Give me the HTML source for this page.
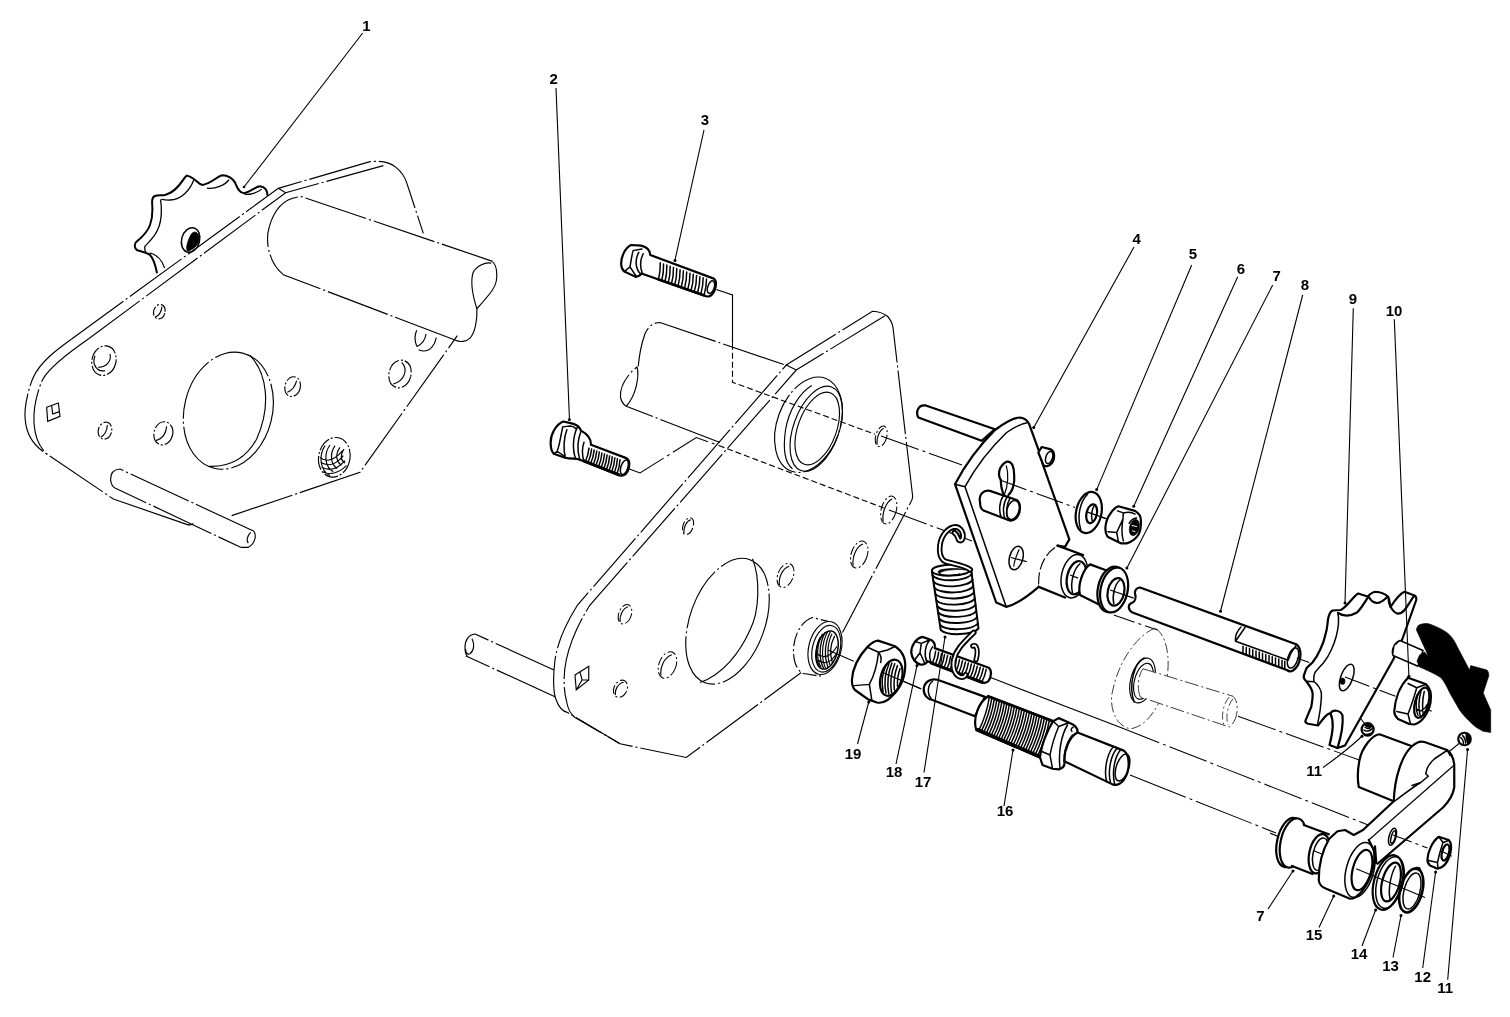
<!DOCTYPE html>
<html><head><meta charset="utf-8"><title>Parts diagram</title>
<style>
html,body{margin:0;padding:0;background:#fff}
svg{display:block;will-change:transform;transform:translateZ(0)}
svg *{vector-effect:non-scaling-stroke}
.ph{fill:none;stroke:#000;stroke-width:1.15;stroke-dasharray:64 3 2 3}
.pf{fill:#fff;stroke:#000;stroke-width:1.15;stroke-dasharray:64 3 2 3}
.hl{fill:none;stroke:#000;stroke-width:1.05;stroke-dasharray:9 2.5 2 2.5}
.n{fill:none;stroke:#000;stroke-width:1.15}
.nf{fill:#fff;stroke:#000;stroke-width:1.15}
.m{fill:none;stroke:#000;stroke-width:1.5;stroke-linejoin:round;stroke-linecap:round}
.mf{fill:#fff;stroke:#000;stroke-width:1.5;stroke-linejoin:round;stroke-linecap:round}
.t{fill:none;stroke:#000;stroke-width:2.2;stroke-linejoin:round;stroke-linecap:round}
.tf{fill:#fff;stroke:#000;stroke-width:2.2;stroke-linejoin:round;stroke-linecap:round}
.k{fill:#000;stroke:#000;stroke-width:.6}
.l{fill:none;stroke:#000;stroke-width:1.1}
.c{fill:none;stroke:#000;stroke-width:1.05;stroke-dasharray:40 4 3 4}
.d{fill:none;stroke:#000;stroke-width:1.1;stroke-dasharray:6 3}
.dot{fill:#000;stroke:none}
text{font-family:"Liberation Sans",sans-serif;font-weight:bold;font-size:15px;fill:#000;stroke:none;text-anchor:middle}
</style></head><body>
<svg width="1510" height="1017" viewBox="0 0 1510 1017">
<rect x="0" y="0" width="1510" height="1017" fill="#fff" stroke="none"/>
<!-- ===== left assembly (phantom plate + sprocket 1) ===== -->
<g transform="translate(120,160) scale(0.125)">
 <path class="t" style="stroke-width:2" d="M1180,280 C1178,245 1160,215 1120,210 C1080,212 1040,262 990,265 C950,262 935,215 920,180 C905,150 860,122 820,122 C780,125 740,185 660,200 C625,195 600,140 535,125 C505,140 470,250 360,280 C330,285 300,280 275,290 C255,300 255,330 258,360 C262,420 255,480 240,520 C215,590 160,630 130,655 C112,675 115,705 135,720 C170,735 215,740 240,760 C270,790 285,850 295,900"/>
 <path class="m" style="stroke-width:1.3" d="M1130,235 C1100,262 1040,278 1000,275 M870,160 C840,200 760,235 700,225 M590,160 C560,240 490,320 400,320 C375,322 350,318 335,315 M325,320 C335,400 330,500 300,560 C275,620 225,660 200,690 C195,710 200,725 205,735 M240,745 C290,755 335,800 355,860"/>
 <ellipse class="m" cx="565" cy="640" rx="72" ry="100" transform="rotate(15 565 640)"/>
 <path class="k" d="M565,600 C590,555 640,575 632,640 C622,690 585,715 545,730 C520,722 535,660 565,600 Z"/>
</g>
<g transform="scale(0.33333)">
 <path class="ph" d="M215,1017 L835,565 L1110,485 Q1160,480 1188,502 Q1212,522 1220,548 L1270,700"/>
 <path class="ph" d="M265,1017 L857,578 L1150,497 M835,565 L857,578"/>
 <path class="ph" d="M1365,1020 L850,824 C805,788 795,722 808,680 C825,620 860,592 905,590 L1478,784"/>
 
 <path class="n" d="M1250,991 Q1240,1015 1250,1038 M1278,1002 Q1275,1028 1250,1040 M1309,1013 C1305,1035 1290,1053 1272,1053 C1265,1053 1260,1051 1256,1049"/>
 <ellipse class="ph" cx="478" cy="935" rx="17" ry="22" transform="rotate(15 478 935)" style="stroke-dasharray:9 2 2 2"/>
 <path class="n" d="M486,920 C484,935 476,948 465,952"/>
</g>
<g transform="translate(0,339) scale(0.33333)">
 <path class="ph" d="M215,0 C170,32 120,70 100,115 C80,160 72,220 76,245 C80,290 105,325 145,348 L340,480"/>
 <path class="n" d="M340,480 L560,556 Q575,560 580,553"/>
 <path class="ph" d="M265,0 C200,45 150,85 130,118 C108,160 100,220 102,253 C105,300 125,335 145,348"/>
 <path class="ph" d="M695,530 L1080,400 L1372,-10"/>
 <!-- rod -->
 <path class="ph" d="M762,577 L360,390 Q330,392 332,425 Q335,442 345,447 L722,625"/>
 <path class="n" d="M762,577 C770,590 765,615 745,625 L722,625 M752,580 C742,590 738,605 745,612"/>
 <!-- big hole -->
 <ellipse class="ph" cx="685" cy="215" rx="132" ry="178" transform="rotate(14 685 215)"/>
 <path class="n" d="M750,50 C800,100 815,200 770,300 C740,355 690,385 625,382"/>
 <!-- holes -->
 <ellipse class="ph" cx="312" cy="65" rx="36" ry="45" transform="rotate(15 312 65)" style="stroke-dasharray:14 2 2 2"/>
 <path class="n" d="M285,50 C275,75 290,100 315,95 M330,45 C335,65 320,85 295,85"/>
 <ellipse class="ph" cx="878" cy="143" rx="23" ry="30" transform="rotate(15 878 143)" style="stroke-dasharray:10 2 2 2"/>
 <path class="n" d="M890,125 C885,145 875,155 862,160"/>
 <ellipse class="ph" cx="1200" cy="105" rx="33" ry="42" transform="rotate(15 1200 105)" style="stroke-dasharray:14 2 2 2"/>
 <path class="n" d="M1205,70 C1225,90 1215,125 1180,135"/>
 <ellipse class="ph" cx="315" cy="275" rx="20" ry="26" transform="rotate(15 315 275)" style="stroke-dasharray:10 2 2 2"/>
 <path class="n" d="M322,258 C322,275 312,290 302,295"/>
 <ellipse class="ph" cx="490" cy="283" rx="28" ry="35" transform="rotate(15 490 283)" style="stroke-dasharray:12 2 2 2"/>
 <path class="n" d="M500,262 C498,285 485,300 468,305"/>
 
 <!-- threaded hole -->
 <ellipse class="ph" cx="1003" cy="355" rx="47" ry="60" transform="rotate(12 1003 355)" style="stroke-dasharray:14 2 2 2"/>
 <path class="n" d="M975,320 C955,350 960,395 990,410 M990,318 C970,345 975,385 1000,398 M1005,320 C988,345 992,378 1012,388 M1020,325 C1005,345 1008,370 1025,378 M962,370 C985,385 1010,375 1030,350 M965,385 C990,398 1015,388 1035,365 M960,355 C980,372 1005,362 1028,335 M968,398 C992,410 1018,400 1040,380 M1032,330 C1020,350 1022,365 1035,372"/>
 <!-- square hole -->
 <path class="n" d="M140,205 L175,192 L180,232 L143,247 Z M155,200 L158,225 L178,218"/>
</g>
<g transform="translate(330,220) scale(0.125)">
 <path class="n" d="M1300,335 C1335,360 1340,440 1330,490 C1320,540 1300,570 1175,710 M1290,345 C1240,335 1170,370 1145,420 C1120,500 1140,600 1175,710 C1180,800 1160,900 1120,945 C1090,975 1040,980 1000,960"/>
</g>
<text x="366.5" y="30.7">1</text>
<path class="l" d="M362.7,33 L244,187"/>
<circle class="dot" cx="244" cy="187" r="1.3"/>

<!-- ===== second plate (phantom), tube, bolts 2 and 3 ===== -->
<g transform="translate(540,290) scale(0.25)">
 <!-- tube -->
 <path class="ph" d="M975,298 L480,130 Q440,130 420,175 Q400,230 393,305"/>
 <path class="ph" d="M720,610 L345,465 Q328,455 322,430 C318,390 350,335 388,308 C398,345 385,420 345,465"/>
 <!-- plate outer -->
 <path class="ph" d="M1412,150 Q1408,125 1390,105 Q1370,88 1330,85 L985,300 L150,1260 C100,1340 70,1410 60,1480 C50,1560 55,1620 65,1640 C75,1670 90,1685 110,1690 L320,1815 L585,1870 L1045,1530 M1210,1370 L1485,845 Q1492,835 1490,820 L1412,150"/>
 <path class="ph" d="M1380,103 L1025,320 L200,1260 C150,1340 120,1410 105,1480 C92,1540 95,1600 105,1640 C112,1680 125,1700 140,1710 L320,1815 M985,300 L1025,320"/>
 <!-- rod left -->
 <path class="ph" d="M56,1520 L-260,1376 M60,1627 L-296,1464"/>
 <path class="n" d="M-260,1376 C-285,1378 -300,1400 -300,1430 C-300,1450 -296,1460 -290,1466 M-272,1395 C-262,1415 -262,1440 -280,1455 C-290,1460 -298,1450 -298,1435"/>
 <!-- big hole -->
 <ellipse class="ph" cx="750" cy="1325" rx="150" ry="262" transform="rotate(20 750 1325)"/>
 <path class="n" d="M850,1075 C880,1150 880,1280 840,1360 C800,1450 730,1540 640,1570"/>
 <!-- bearing -->
 <ellipse class="ph" cx="1074" cy="539" rx="125" ry="198" transform="rotate(20 1074 539)" style="stroke-dasharray:90 3 2 3;stroke-dashoffset:-60"/>
 <path class="n" d="M1087,382 C1040,410 995,480 982,560 C972,630 978,690 1010,715"/>
 <ellipse class="n" cx="1105" cy="555" rx="91" ry="178" transform="rotate(20 1105 555)"/>
 <ellipse class="n" cx="1109" cy="554" rx="77" ry="152" transform="rotate(20 1109 554)"/>
 <!-- small holes -->
 <g>
 <ellipse class="hl" cx="1365" cy="585" rx="22" ry="42" transform="rotate(15 1365 585)"/>
 <ellipse class="hl" cx="1395" cy="880" rx="30" ry="57" transform="rotate(15 1395 880)"/>
 <ellipse class="hl" cx="592" cy="945" rx="20" ry="35" transform="rotate(20 592 945)"/>
 <ellipse class="hl" cx="340" cy="1297" rx="25" ry="40" transform="rotate(20 340 1297)"/>
 <ellipse class="hl" cx="510" cy="1500" rx="34" ry="55" transform="rotate(20 510 1500)"/>
 <ellipse class="hl" cx="322" cy="1595" rx="26" ry="36" transform="rotate(25 322 1595)"/>
 <ellipse class="hl" cx="982" cy="1142" rx="31" ry="50" transform="rotate(20 982 1142)"/>
 <ellipse class="hl" cx="1277" cy="1058" rx="32" ry="56" transform="rotate(18 1277 1058)"/>
 </g>
 <path class="n" d="M1375,553 C1355,563 1345,597 1349,619 M1408,836 C1381,850 1367,896 1373,926 M603,919 C584,925 573,953 576,972 M352,1267 C330,1274 317,1306 321,1328 M527,1459 C496,1469 479,1512 484,1542 M335,1569 C312,1573 298,1600 302,1620 M997,1105 C969,1113 953,1153 958,1180 M1292,1016 C1263,1027 1247,1072 1253,1102"/>
 <!-- square hole -->
 <path class="n" d="M140,1540 L195,1505 L195,1560 L145,1600 Z M160,1528 L168,1560 L195,1560 M168,1560 L145,1600"/>
 <!-- threaded boss -->
 <path class="pf" d="M1090,1310 C1030,1330 1000,1420 1020,1490 C1030,1520 1045,1535 1062,1535 L1120,1545 L1150,1325 Z" style="stroke-dasharray:14 3 2 3"/>
 <ellipse class="nf" cx="1140" cy="1432" rx="65" ry="108" transform="rotate(14 1140 1432)"/>
 <ellipse class="n" cx="1145" cy="1435" rx="55" ry="95" transform="rotate(14 1145 1435)"/>
 <ellipse class="m" cx="1148" cy="1440" rx="42" ry="78" transform="rotate(14 1148 1440)"/>
 <path class="m" style="stroke-width:1.3" d="M1120,1390 C1100,1430 1102,1480 1118,1505 M1140,1370 C1115,1418 1115,1478 1134,1512 M1160,1370 C1137,1415 1137,1472 1152,1508 M1178,1385 C1160,1420 1160,1462 1170,1492"/><path class="n" d="M1130,1375 C1105,1420 1105,1480 1125,1510 M1150,1368 C1125,1415 1125,1475 1142,1512 M1168,1375 C1148,1415 1148,1470 1160,1500 M1112,1480 C1135,1500 1165,1490 1185,1455 M1108,1455 C1135,1478 1165,1465 1188,1425"/>
 <!-- lines from bolts -->
 <path class="n" d="M705,-2 L770,20 L770,215"/>
 <path class="d" d="M770,215 L770,369 L1340,577"/>
 <path class="c" d="M355,715 L400,732 L625,590 L715,622"/>
 <path class="d" d="M715,622 L1375,872"/>
</g>
<!-- bolt 2 -->
<g transform="translate(540,400) scale(0.125)">
 <path class="tf" d="M185,172 C130,195 85,270 85,340 C85,385 95,415 110,430 L200,462 C240,472 280,468 300,472 L330,482 L640,603 C672,612 702,588 712,538 C718,498 706,472 690,465 L408,358 C410,310 385,275 328,245 C318,212 290,195 245,185 Z"/>
 <path class="m" d="M182,215 L242,208 C262,210 280,220 290,232 M182,215 C165,290 155,370 137,410 L110,430 M137,410 L192,447 M215,238 C190,300 185,400 203,460 M300,215 C262,290 258,400 285,468 M328,250 C300,320 298,410 318,476 M352,338 C337,380 337,440 350,488"/>
 <ellipse class="m" cx="675" cy="538" rx="28" ry="60" transform="rotate(18 675 538)"/>
 <path class="m" d="M392.0,385.0 Q386.4,443.0 362.0,494.0 M412.7,392.8 Q407.2,451.0 383.1,502.2 M433.3,400.5 Q428.1,458.9 404.2,510.3 M454.0,408.2 Q449.0,466.9 425.2,518.5 M474.7,416.0 Q469.9,474.8 446.3,526.7 M495.3,423.8 Q490.7,482.8 467.4,534.8 M516.0,431.5 Q511.6,490.8 488.5,543.0 M536.7,439.2 Q532.5,498.7 509.6,551.2 M557.3,447.0 Q553.4,506.7 530.7,559.3 M578.0,454.8 Q574.2,514.6 551.8,567.5 M598.7,462.5 Q595.1,522.6 572.8,575.7 M619.3,470.2 Q616.0,530.6 593.9,583.8 M640.0,478.0 Q636.9,538.5 615.0,592.0"/>
 <path class="t" d="M350,487 L630,598" style="stroke-width:3"/>
</g>
<!-- bolt 3 -->
<g transform="translate(600,230) scale(0.125)">
 <path class="tf" d="M250,120 C200,140 165,220 170,280 C172,310 185,325 195,332 L285,375 C310,370 325,362 332,348 L850,530 C880,540 915,510 925,455 C932,415 920,390 900,385 L402,200 C400,165 375,135 330,125 Z"/>
 <path class="m" d="M265,165 L335,152 M265,165 C250,220 245,270 240,295 L195,332 M240,295 L290,372 M310,180 C280,230 280,310 325,352 M345,190 C320,240 320,300 340,350"/>
 <ellipse class="m" cx="888" cy="457" rx="26" ry="52" transform="rotate(18 888 457)"/>
 <path class="m" d="M482.0,262.0 Q484.4,331.3 468.0,394.0 M508.4,271.3 Q510.6,340.5 494.0,403.1 M534.9,280.6 Q536.9,349.7 520.0,412.3 M561.3,289.9 Q563.1,359.0 546.0,421.4 M587.7,299.1 Q589.3,368.2 572.0,430.6 M614.1,308.4 Q615.5,377.4 598.0,439.7 M640.6,317.7 Q641.7,386.6 624.0,448.9 M667.0,327.0 Q667.9,395.8 650.0,458.0 M693.4,336.3 Q694.1,405.0 676.0,467.1 M719.9,345.6 Q720.4,414.2 702.0,476.3 M746.3,354.9 Q746.6,423.5 728.0,485.4 M772.7,364.1 Q772.8,432.7 754.0,494.6 M799.1,373.4 Q799.0,441.9 780.0,503.7 M825.6,382.7 Q825.2,451.1 806.0,512.9 M852.0,392.0 Q851.4,460.3 832.0,522.0"/>
 <path class="t" d="M465,394 L835,524" style="stroke-width:2.6"/>
</g>
<text x="553.7" y="83.7">2</text>
<path class="l" d="M556,88 L569.4,418"/>
<circle class="dot" cx="569.4" cy="419.4" r="1.5"/>
<text x="705" y="125.2">3</text>
<path class="l" d="M704,130 L675,260"/>
<circle class="dot" cx="675" cy="260.6" r="1.5"/>

<!-- ===== bracket 4, washer 5, nut 6, bushing 7 ===== -->
<!-- centre lines from plate holes to bracket -->
<path class="c" d="M881,436 L962,465 M889,510 L972,541"/>
<g transform="translate(910,395) scale(0.16667)">
 <!-- rod behind -->
 <path class="tf" d="M510,205 L90,62 C50,58 32,100 50,135 L430,275 Z"/>
 <!-- bracket body -->
 <path class="tf" d="M270,535 C330,420 420,300 510,210 C570,165 630,135 660,135 Q700,140 715,175 L775,340 L800,425 L956,866 L930,911 L885,904 L772,1151 C710,1205 640,1255 577,1271 L517,1245 Z"/>
 <path class="m" d="M270,535 L330,550 M330,550 C390,440 480,320 580,225 C630,190 670,170 708,165 M330,550 L577,1271"/>
 <!-- pin stub top right -->
 <path class="tf" d="M770,345 L790,312 L840,325 C870,335 872,380 850,410 C835,430 810,432 800,420 Z"/>
 <ellipse class="m" cx="835" cy="375" rx="20" ry="38" transform="rotate(18 835 375)"/>
 <!-- slot -->
 <path class="t" d="M545,510 C520,470 540,420 580,400 C615,395 625,440 625,480 C630,530 615,580 590,600"/>
 <path class="t" d="M545,510 C545,545 552,580 566,602"/><path class="m" style="stroke-width:1.2" d="M578,425 C592,470 590,540 566,598"/>
 <!-- stud -->
 <path class="tf" d="M420,640 C410,600 440,568 480,575 L640,630 C670,650 665,720 630,745 C615,755 600,755 590,750 L445,695 C430,690 420,670 420,640 Z"/>
 <ellipse class="m" cx="618" cy="690" rx="36" ry="58" transform="rotate(18 618 690)"/>
 <path class="m" d="M560,605 C535,640 532,700 548,735 M582,612 C558,650 555,705 570,742 M600,620 C578,655 575,708 588,748"/>
 <!-- centre line to washer/nut -->
 <path class="c" style="stroke-dasharray:28 4 3 4" d="M540,510 L990,675"/><path class="n" d="M1100,712 L1185,745"/>
 <!-- lower hole -->
 <ellipse class="m" cx="637" cy="978" rx="40" ry="72" transform="rotate(15 637 978)"/>
 <path class="n" d="M605,975 L700,1000 M655,925 C640,960 625,1000 622,1030"/>
</g>
<!-- washer 5 / nut 6 -->
<g transform="translate(1060,470) scale(0.083333)">
 <ellipse class="tf" cx="345" cy="510" rx="152" ry="250" transform="rotate(12 345 510)"/>
 <path class="m" d="M330,290 C240,380 200,560 250,720"/>
 <ellipse class="t" cx="380" cy="525" rx="62" ry="115" transform="rotate(12 380 525)"/>
 <path class="m" d="M410,430 C380,470 370,570 390,620"/>
 <path class="n" d="M330,505 L545,580"/>
 <path class="tf" d="M545,690 C550,620 570,570 600,530 C630,480 660,450 700,435 L900,490 C950,520 975,570 970,620 C975,680 965,720 950,760 C920,820 870,860 800,880 L730,880 L570,800 C550,770 543,730 545,690 Z"/>
 <path class="m" d="M690,490 L760,515 L755,590 L680,750 L575,740 M680,750 L700,850 M760,515 C820,500 870,510 900,530 M755,590 C740,680 740,780 760,850 M830,640 C850,600 880,580 920,575"/>
 <ellipse class="k" cx="892" cy="690" rx="58" ry="100" transform="rotate(14 892 690)"/>
 <path d="M860,665 L925,680 M865,730 L905,740" stroke="#fff" stroke-width="1" fill="none"/>
 <path class="n" d="M840,690 L965,735"/>
</g>
<!-- boss and bushing 7 -->
<g transform="translate(990,520) scale(0.125)">
 <path class="tf" d="M540,205 L745,280 C780,330 790,480 720,590 C690,620 640,630 600,620 L390,535 C375,400 430,280 520,215 Z" style="stroke:none"/>
 <path class="t" d="M540,205 L745,280 M390,535 L600,620"/>
 <path class="n" d="M520,220 C430,280 380,400 390,530" style="stroke-dasharray:12 3"/>
 <ellipse class="m" cx="675" cy="450" rx="103" ry="176" transform="rotate(12 675 450)"/>
 <ellipse class="tf" cx="692" cy="462" rx="76" ry="135" transform="rotate(12 692 462)"/>
 <path class="m" d="M720,350 C670,390 640,500 660,580"/>
 <path class="n" d="M640,440 L705,465"/>
 <!-- bushing body -->
 <path class="tf" d="M800,355 L950,410 L880,680 L720,600 C700,520 740,400 800,355 Z"/>
 <!-- flange -->
 <ellipse class="tf" cx="975" cy="555" rx="112" ry="185" transform="rotate(12 975 555)"/>
 <ellipse class="tf" cx="993" cy="560" rx="108" ry="182" transform="rotate(12 993 560)"/>
 <ellipse class="t" cx="1008" cy="575" rx="66" ry="112" transform="rotate(12 1008 575)"/>
 <path class="m" d="M1040,480 C1000,510 975,600 990,670"/>
 <path class="n" d="M960,560 L1150,625"/>
</g>

<!-- ===== spring 17, bolt 18, nut 19, adjuster 16 ===== -->
<!-- centre lines -->
<path class="c" d="M828,650 L853.75,661.25"/>
<path class="n" d="M882,672 L921,689"/>
<path class="n" d="M990.6,677.5 L1122,728" />
<path class="c" d="M1122,728 L1386,832"/>
<!-- spring -->
<g transform="translate(890,520) scale(0.125)">
 <path d="M335,410 C330,380 400,355 490,355 C590,355 655,375 650,400 L708,868 A160,58 -2 0 1 406,880 Z" fill="#fff" stroke="none"/>
 <path class="t" d="M335,410 L406,880 A160,58 -2 0 0 708,868 L650,400" style="stroke-width:2"/>
 <ellipse class="t" cx="492" cy="400" rx="157" ry="45" transform="rotate(-2 492 400)" style="stroke-width:2"/>
 <path class="k" d="M385,410 C400,385 560,380 600,400 C580,392 420,395 400,425 C395,440 500,450 560,430 C500,455 380,450 385,410 Z"/>
 <path class="t" style="stroke-width:1.9" d="M339.6,440.0 A160,58 -2 0 0 654.8,428.0 M347.2,490.0 A160,58 -2 0 0 660.8,478.0 M354.8,540.0 A160,58 -2 0 0 666.8,528.0 M362.4,590.0 A160,58 -2 0 0 672.8,578.0 M370.0,640.0 A160,58 -2 0 0 678.8,628.0 M377.6,690.0 A160,58 -2 0 0 684.8,678.0 M385.2,740.0 A160,58 -2 0 0 690.8,728.0 M392.8,790.0 A160,58 -2 0 0 696.8,778.0 M400.4,840.0 A160,58 -2 0 0 702.8,828.0"/>
 <!-- top hook -->
 <path d="M642,398 C600,362 500,350 440,330 C400,310 392,250 400,200 C410,120 470,55 525,55 C570,60 592,110 582,145 C575,172 550,170 545,148 C540,128 532,112 515,102" fill="none" stroke="#000" stroke-width="5.6" stroke-linecap="round"/>
 <path d="M642,398 C600,362 500,350 440,330 C400,310 392,250 400,200 C410,120 470,55 525,55 C570,60 592,110 582,145 C575,172 550,170 545,148 C540,128 532,112 515,102" fill="none" stroke="#fff" stroke-width="1.9" stroke-linecap="round"/>
</g>
<!-- nut 19 -->
<g transform="translate(845,620) scale(0.125)">
 <path class="tf" d="M55,480 C60,400 100,300 180,215 C210,185 240,165 265,165 L400,210 C460,250 490,320 480,400 C470,500 420,580 340,640 C310,660 280,665 255,660 L185,635 L80,560 C60,540 55,510 55,480 Z"/>
 <path class="m" d="M180,218 L268,258 L340,240 L400,212 M268,258 C260,340 230,450 195,515 L75,525 M195,515 L215,645 M268,258 C300,300 290,320 285,340"/>
  <ellipse class="t" cx="370" cy="462" rx="84" ry="148" transform="rotate(16 370 462)"/>
 <path class="t" style="stroke-width:1.5" d="M330,360 C300,420 290,500 305,570 M352,350 C322,420 312,510 328,585 M375,345 C345,420 335,510 350,590 M398,350 C370,420 360,510 372,580 M420,365 C395,430 388,500 395,560 M440,390 C422,440 418,490 420,530"/>
 <path class="n" d="M300,420 L610,550"/>
 <!-- bolt 18 -->
 <path class="tf" d="M530,260 C530,200 570,145 620,135 L690,160 C715,175 722,200 718,225 L1150,382 C1175,400 1172,450 1150,485 C1135,505 1115,505 1100,500 L660,330 C650,350 625,362 600,355 C560,340 535,300 530,260 Z"/>
 <path class="m" d="M560,172 L610,187 L680,158 M610,187 L600,262 L555,322 M600,262 L640,352 M680,160 C640,200 630,280 655,335 M700,215 C675,250 672,300 688,340"/>
 <path class="m" d="M725.0,250.0 Q720.0,300.2 700.0,345.0 M748.8,258.5 Q743.6,308.9 723.2,353.8 M772.6,267.1 Q767.1,317.5 746.5,362.6 M796.5,275.6 Q790.6,326.2 769.7,371.5 M820.3,284.1 Q814.1,334.9 792.9,380.3 M844.1,292.6 Q837.7,343.6 816.2,389.1 M867.9,301.2 Q861.2,352.3 839.4,397.9 M891.8,309.7 Q884.7,360.9 862.6,406.8 M915.6,318.2 Q908.3,369.6 885.9,415.6 M939.4,326.8 Q931.8,378.3 909.1,424.4 M963.2,335.3 Q955.3,387.0 932.4,433.2 M987.1,343.8 Q978.9,395.6 955.6,442.1 M1010.9,352.4 Q1002.4,404.3 978.8,450.9 M1034.7,360.9 Q1025.9,413.0 1002.1,459.7 M1058.5,369.4 Q1049.4,421.7 1025.3,468.5 M1082.4,377.9 Q1073.0,430.3 1048.5,477.4 M1106.2,386.5 Q1096.5,439.0 1071.8,486.2 M1130.0,395.0 Q1120.0,447.7 1095.0,495.0"/>
 <path class="t" style="stroke-width:3" d="M690,345 L1100,500"/>
 <!-- spring lower hook -->
 <path d="M1030,100 C960,170 890,230 870,320 C858,390 880,440 920,455 C945,462 960,450 965,438" fill="none" stroke="#000" stroke-width="5.6" stroke-linecap="round"/>
 <path d="M1030,100 C960,170 890,230 870,320 C858,390 880,440 920,455 C945,462 960,450 965,438" fill="none" stroke="#fff" stroke-width="1.9" stroke-linecap="round"/>
 <path d="M1022,208 C1050,190 1070,240 1048,318" fill="none" stroke="#000" stroke-width="5.2" stroke-linecap="round"/>
 <path d="M1022,208 C1050,190 1070,240 1048,318" fill="none" stroke="#fff" stroke-width="1.8" stroke-linecap="round"/>
</g>
<!-- adjuster 16 -->
<g transform="translate(960,680) scale(0.125)">
 <!-- thin rod (in 8x coords continuing from the left) -->
 <path class="tf" d="M200,135 L-180,-2 C-230,-15 -280,10 -290,65 C-295,120 -260,155 -220,160 L120,290 Z"/>
 <path class="m" d="M-220,10 C-260,40 -265,110 -230,150"/>
 <!-- threaded section -->
 <path class="tf" d="M225,130 L745,330 L640,620 L130,400 C100,300 150,180 225,130 Z"/>
 <path class="m" d="M235.0,136.0 Q213.0,278.4 150.0,405.0 M255.0,143.7 Q232.8,286.4 169.6,413.4 M275.0,151.4 Q252.6,294.5 189.2,421.8 M295.0,159.0 Q272.4,302.5 208.8,430.2 M315.0,166.7 Q292.2,310.5 228.4,438.6 M335.0,174.4 Q312.0,318.6 248.0,447.0 M355.0,182.1 Q331.8,326.6 267.6,455.4 M375.0,189.8 Q351.6,334.7 287.2,463.8 M395.0,197.4 Q371.4,342.7 306.8,472.2 M415.0,205.1 Q391.2,350.7 326.4,480.6 M435.0,212.8 Q411.0,358.8 346.0,489.0 M455.0,220.5 Q430.8,366.8 365.6,497.4 M475.0,228.2 Q450.6,374.9 385.2,505.8 M495.0,235.8 Q470.4,382.9 404.8,514.2 M515.0,243.5 Q490.2,390.9 424.4,522.6 M535.0,251.2 Q510.0,399.0 444.0,531.0 M555.0,258.9 Q529.8,407.0 463.6,539.4 M575.0,266.6 Q549.6,415.1 483.2,547.8 M595.0,274.2 Q569.4,423.1 502.8,556.2 M615.0,281.9 Q589.2,431.1 522.4,564.6 M635.0,289.6 Q609.0,439.2 542.0,573.0 M655.0,297.3 Q628.8,447.2 561.6,581.4 M675.0,305.0 Q648.6,455.3 581.2,589.8 M695.0,312.6 Q668.4,463.3 600.8,598.2 M715.0,320.3 Q688.2,471.3 620.4,606.6 M735.0,328.0 Q708.0,479.4 640.0,615.0"/>
 <path class="t" style="stroke-width:3.6" d="M140,398 L640,614"/><path class="t" style="stroke-width:2.6" d="M225,130 L745,330"/>
 <!-- hex -->
 <path class="tf" d="M745,330 L790,305 L870,340 C920,360 945,385 940,420 C900,480 860,560 835,650 C840,680 825,705 790,715 L740,710 L660,680 L640,620 C650,520 700,400 745,330 Z"/>
 <path class="m" d="M790,372 L870,342 M790,372 C760,440 735,520 720,600 L650,570 M720,600 L740,708 M745,330 L790,372 M905,378 C890,385 885,400 895,410 M860,360 C810,440 785,580 800,705"/>
 <!-- right cylinder -->
 <path class="tf" d="M940,420 L1310,565 C1360,600 1365,720 1310,800 C1280,835 1245,845 1220,835 L835,650 C830,560 880,450 940,420 Z"/>
 <path class="m" d="M900,440 C850,500 825,600 840,650 M1225,535 C1170,600 1150,740 1175,815 M1255,548 C1200,610 1182,745 1205,825 M1285,558 C1232,620 1215,750 1238,835"/>
 <ellipse class="m" cx="1300" cy="700" rx="50" ry="112" transform="rotate(18 1300 700)"/>
</g>
<path class="c" d="M1130,775 L1276,833" style="stroke-dasharray:60 4 3 4"/>

<!-- ===== shaft 8, roller (phantom), sprocket 9, nut 10, blob ===== -->
<g transform="translate(1133,560) scale(0.25)">
 <!-- roller phantom -->
 <path class="c" d="M-77,220 L98,280" style="stroke-dasharray:22 4 3 4"/>
 <path class="ph" style="stroke-dasharray:10 3 2 3;stroke-width:.95;stroke:#333" d="M88,272 C20,300 -60,400 -85,540 C-92,610 -60,665 -12,675 C50,670 110,590 135,480 C150,390 135,300 88,272"/>
 <ellipse class="n" cx="38" cy="482" rx="47" ry="92" transform="rotate(15 38 482)"/><path class="m" d="M45,392 C5,410 -20,500 5,568"/>
 <ellipse class="n" cx="42" cy="485" rx="36" ry="74" transform="rotate(15 42 485)"/>
 <path class="pf" style="stroke-dasharray:14 3 2 3;stroke-width:.95;stroke:#333" d="M40,435 L400,545 C428,570 420,645 385,668 L30,548 C15,520 20,460 40,435 Z"/>
 <path class="ph" style="stroke-dasharray:8 3 2 3;stroke-width:.9;stroke:#333" d="M385,548 C360,575 350,630 365,662 M400,555 C378,580 370,630 380,660"/>
 <path class="c" d="M420,625 L905,800"/>
 <!-- shaft 8 -->
 <path class="tf" d="M28,110 L655,338 C680,360 672,420 640,442 C630,448 622,445 615,440 L-2,210 C-20,200 -22,178 -5,172 C22,160 5,135 8,127 Q12,112 28,110 Z"/>
 <path class="m" d="M448,270 L410,325 L618,400 M432,268 C415,285 408,305 410,325 M655,338 L632,372 L620,402"/>
 <ellipse class="m" cx="640" cy="392" rx="20" ry="42" transform="rotate(18 640 392)"/>
 <path class="t" style="stroke-width:1.5" d="M440,345 L440,372 M453,350 L453,378 M466,354 L466,384 M479,359 L479,389 M492,364 L492,394 M505,368 L505,399 M518,373 L518,404 M531,378 L531,409 M544,382 L544,414 M557,387 L557,419 M570,392 L570,424 M583,396 L583,429 M596,401 L596,434 M607,405 L607,437"/>
 <path class="n" d="M655,392 L705,410"/>
 <!-- sprocket 9 -->
 <path class="tf" d="M798,202 L831,200 C860,185 880,145 901,134 L938,146 C950,135 962,127 971,127 C990,128 1010,138 1021,147 C1022,160 1024,175 1030,188 C1045,165 1065,135 1086,127 L1126,142 Q1135,148 1133,160 L1076,320 L1040,400 L848,742 L818,752 L786,740 C800,690 802,640 790,614 C780,610 765,628 740,662 L700,655 C692,652 688,648 690,642 C695,632 705,605 713,588 C718,560 720,545 718,530 C715,515 705,500 693,485 C685,478 682,470 683,465 C685,455 690,445 693,435 C700,425 710,418 718,410 C730,395 740,378 748,360 C758,340 765,320 768,305 C774,285 777,270 778,255 C780,240 780,232 783,225 C787,212 792,205 798,202 Z"/>
 <path class="t" d="M820,212 C845,228 870,225 896,210 C912,195 930,165 941,147 M945,150 C950,160 960,170 976,172 C990,172 1005,160 1018,147 M1024,155 C1026,180 1035,205 1056,214 C1070,215 1080,208 1086,200 C1095,190 1110,165 1123,145"/>
 <path class="m" d="M820,212 C825,240 822,270 813,305 C808,325 800,345 793,360 C785,378 775,395 763,410 C750,425 735,440 728,450 C722,465 722,478 725,487 M725,487 L693,485 M725,487 C735,495 748,510 753,530 C755,550 752,570 750,588 C748,610 742,635 738,660"/>
 <path class="t" d="M790,613 C800,596 830,600 838,622 C842,660 828,720 818,752"/>
 <ellipse class="m" cx="855" cy="470" rx="24" ry="56" transform="rotate(20 855 470)"/>
 <ellipse class="k" cx="838" cy="485" rx="10" ry="13"/>
 <!-- stub shaft in front of sprocket -->
 <path class="mf" d="M1068,322 L1160,362 L1140,425 L1040,382 C1032,360 1045,330 1068,322 Z"/>
 <path class="n" style="stroke-dasharray:6 3" d="M1068,322 C1045,335 1035,365 1042,384"/>
 <path class="c" style="stroke-dasharray:26 4 3 4" d="M848,468 L1050,545"/>
 <path class="n" d="M1145,585 L1195,605"/>
 <g transform="translate(0,16)">
 <!-- nut 10 -->
 <path class="tf" d="M1045,590 C1048,545 1065,490 1100,455 L1170,480 C1190,495 1195,525 1190,555 C1180,600 1155,635 1125,642 L1105,640 L1060,620 C1050,610 1045,600 1045,590 Z"/>
 <path class="m" d="M1100,478 L1135,495 L1170,482 M1135,495 C1125,530 1110,575 1100,600 L1055,590 M1100,600 L1110,640"/>
 <ellipse class="t" cx="1155" cy="555" rx="27" ry="62" transform="rotate(15 1155 555)"/>
 <path class="m" d="M1140,520 C1130,550 1130,585 1140,605 M1152,508 C1142,545 1142,585 1150,612 M1165,510 C1157,545 1157,580 1162,605 M1135,580 C1150,595 1165,585 1178,560"/>
 </g>
</g>
<!-- black blob -->
<path class="k" d="M1416.4,630 C1417,626 1419,624.5 1421,624.3 C1424,623 1427,623.5 1428.5,623.7 C1433,625 1437,627 1441,629 C1445,631 1449,634 1451,636.5 C1454,640 1456,644 1457,646.3 L1469.5,670 L1470.7,665.6 L1487,670 Q1489,672 1488.9,675.5 L1483.2,693 L1490.7,710 L1490.7,732.5 L1483,731.2 C1479,729 1475,727 1472,723.7 C1467,719 1463,715 1459.5,710 L1449.5,692.5 C1447,687 1444,681 1440.7,677.5 C1434,673 1426,670 1419.5,667 L1417,661 L1419.5,655 L1424.5,652 L1428.5,656.5 Z"/>
<!-- set screws 11 -->
<g transform="translate(1322,660) scale(0.125)">
 <path class="n" d="M310,470 L350,520"/>
 <ellipse class="tf" cx="365" cy="555" rx="48" ry="50"/>
 <path class="k" d="M325,585 C350,610 400,600 412,560 C400,590 350,600 325,585 Z M340,520 C355,500 390,505 400,530 C385,540 350,545 340,520 Z"/>
 <path class="m" d="M335,560 C350,575 385,570 400,550 M345,540 C360,550 380,548 392,535"/>
 <ellipse class="tf" cx="1140" cy="632" rx="50" ry="50"/>
 <path class="k" d="M1150,585 C1185,595 1200,640 1175,675 C1160,680 1150,640 1150,585 Z"/>
 <path class="m" d="M1110,620 C1125,635 1135,650 1130,670 M1125,605 C1140,620 1150,640 1148,665"/>
 <path class="n" d="M1100,665 L1020,730"/>
</g>

<!-- ===== arm 15, bushing 7 (lower), washer 14, snap ring 13, nut 12 ===== -->
<g transform="translate(1133,720) scale(0.25)">
 <!-- lower bushing 7 -->
 <ellipse class="tf" cx="626" cy="490" rx="50" ry="100" transform="rotate(12 626 490)"/>
 <ellipse class="tf" cx="640" cy="492" rx="50" ry="100" transform="rotate(12 640 492)"/>
 <path d="M683,420 L783,457 L713,615 L640,588 Z" fill="#fff" stroke="none"/><path class="t" d="M683,420 L783,457 M718,616 L636,584"/>
 <ellipse class="tf" cx="745" cy="535" rx="40" ry="80" transform="rotate(12 745 535)"/>
 <ellipse class="m" cx="750" cy="537" rx="30" ry="66" transform="rotate(12 750 537)"/>
 <path class="n" d="M548,452 L583,467 M720,522 L758,537"/>
 <!-- upper boss cylinder -->
 <path class="tf" d="M986,57 C956,60 916,110 906,160 C898,200 898,240 903,268 L1043,325 L1116,105 Z"/>
 <!-- arm body -->
 <path d="M1043,325 C1046,230 1076,140 1116,105 C1135,88 1151,83 1166,88 L1256,120 C1276,135 1283,155 1285,180 L1285,270 C1280,300 1265,325 1240,350 L978,575 L958,600 C938,670 898,715 868,715 L773,675 C758,670 745,660 743,640 C743,580 758,520 785,475 L818,445 L848,440 L883,460 L920,440 Z" fill="#fff" stroke="none"/>
 <path class="t" d="M1043,325 C1046,230 1076,140 1116,105 C1135,88 1151,83 1166,88 L1256,120 C1276,135 1283,155 1285,180 L1285,270 C1280,300 1265,325 1240,350 L978,575"/>
 <path class="n" d="M1285,180 L943,480"/><path class="t" d="M943,480 L963,520"/>
 <path class="t" d="M1043,325 L920,440 L883,460 L848,440 L818,445 L785,475 C758,520 743,580 743,640 C745,660 758,670 773,675 L868,715 C898,715 938,670 958,600 C965,570 968,540 963,520"/>
 <path class="m" d="M1256,122 L1206,155 C1190,170 1180,185 1176,195 L1171,215 L1181,225 L1151,250 L1116,262 M1151,250 C1120,268 1080,300 1046,325 M1256,122 C1262,128 1266,135 1268,142"/>
 <path class="t" d="M968,505 L973,572"/>
 <!-- lower boss front face -->
 <ellipse class="m" cx="908" cy="600" rx="55" ry="113" transform="rotate(15 908 600)"/>
 <ellipse class="tf" cx="916" cy="600" rx="37" ry="83" transform="rotate(15 916 600)"/>
 <!-- small hole -->
 <ellipse class="m" cx="1038" cy="467" rx="14" ry="35" transform="rotate(15 1038 467)"/>
 <ellipse class="m" cx="1041" cy="468" rx="8" ry="26" transform="rotate(15 1041 468)"/>
 <path class="c" style="stroke-dasharray:20 4 3 4" d="M1040,460 L1178,512"/>
 <!-- washer 14 -->
 <ellipse class="tf" cx="1020" cy="650" rx="56" ry="112" transform="rotate(15 1020 650)"/>
 <ellipse class="m" cx="1028" cy="650" rx="52" ry="106" transform="rotate(15 1028 650)"/>
 <ellipse class="tf" cx="1032" cy="648" rx="35" ry="80" transform="rotate(15 1032 648)"/>
 <path class="m" d="M1050,585 C1030,620 1020,680 1028,715"/>
 <!-- snap ring 13 -->
 <ellipse class="t" cx="1113" cy="682" rx="44" ry="90" transform="rotate(15 1113 682)" style="stroke-width:2.6"/>
 <ellipse class="m" cx="1116" cy="684" rx="32" ry="74" transform="rotate(15 1116 684)"/>
 <path class="k" d="M1120,598 L1132,588 L1148,590 L1152,604 L1140,600 Z"/>
 <path class="n" d="M893,595 L1168,710"/>
 <!-- nut 12 -->
 <path class="tf" d="M1178,555 C1180,525 1198,485 1223,467 L1263,480 C1273,490 1274,510 1270,530 C1262,565 1243,590 1218,595 L1188,582 C1180,575 1177,565 1178,555 Z"/>
 <path class="m" d="M1223,467 L1240,490 L1263,482 M1240,490 C1230,520 1222,550 1218,570 L1182,562 M1218,570 L1220,594"/>
 <ellipse class="t" cx="1250" cy="530" rx="14" ry="33" transform="rotate(15 1250 530)"/>
 <path class="n" d="M1235,525 L1275,545"/>
</g>

<!-- ===== labels and leaders ===== -->
<g class="l">
<path d="M1134,247 L1033.75,427.5"/>
<path d="M1191.7,265 L1096.7,489.6"/>
<path d="M1237.7,276.7 L1133.75,506.25"/>
<path d="M1272.7,285 L1126.9,568"/>
<path d="M1302.7,295 L1220.5,611.25"/>
<path d="M1353.3,308.3 L1345,603"/>
<path d="M1394.3,319.3 L1408.9,676.25"/>
<path d="M1323,767.5 Q1345,752 1362,736.25"/>
<path d="M1293,871 L1268,909"/>
<path d="M1333.75,896 L1319,927.5"/>
<path d="M1375.6,910 L1362,946"/>
<path d="M1401,915.6 L1393,957.5"/>
<path d="M1435.6,872 L1422.7,968"/>
<path d="M1467.6,749.4 L1447.7,979.7"/>
<path d="M868.75,702 L857.5,744"/>
<path d="M917,665.6 L896,764"/>
<path d="M945,637 L924,772.5"/>
<path d="M1013,750 L1004,806"/>
</g>
<g class="dot">
<circle cx="1033.75" cy="427.5" r="1.5"/><circle cx="1096.7" cy="489.6" r="1.5"/><circle cx="1133.75" cy="506.25" r="1.5"/>
<circle cx="1126.9" cy="568" r="1.5"/><circle cx="1220.5" cy="611.25" r="1.5"/><circle cx="1345" cy="603" r="1.5"/>
<circle cx="1408.9" cy="676.25" r="1.5"/><circle cx="1362" cy="736.25" r="1.5"/><circle cx="1293" cy="871" r="1.5"/>
<circle cx="1333.75" cy="896" r="1.5"/><circle cx="1375.6" cy="910" r="1.5"/><circle cx="1401" cy="915.6" r="1.5"/>
<circle cx="1435.6" cy="872" r="1.5"/><circle cx="1467.6" cy="749.4" r="1.5"/><circle cx="868.75" cy="702" r="1.5"/>
<circle cx="917" cy="665.6" r="1.5"/><circle cx="945" cy="637" r="1.5"/><circle cx="1013" cy="750" r="1.5"/>
</g>
<text x="1136.7" y="243.7">4</text>
<text x="1193" y="258.7">5</text>
<text x="1241" y="273.7">6</text>
<text x="1276.7" y="281.2">7</text>
<text x="1305" y="290.2">8</text>
<text x="1353" y="303.7">9</text>
<text x="1394" y="315.7">10</text>
<text x="1314.25" y="775.7">11</text>
<text x="1260.5" y="920.7">7</text>
<text x="1314" y="940.2">15</text>
<text x="1359" y="958.7">14</text>
<text x="1390.5" y="970.7">13</text>
<text x="1422.7" y="981.7">12</text>
<text x="1445.3" y="993.2">11</text>
<text x="853" y="758.7">19</text>
<text x="894" y="776.7">18</text>
<text x="923" y="786.7">17</text>
<text x="1005" y="815.7">16</text>

</svg>
</body></html>
